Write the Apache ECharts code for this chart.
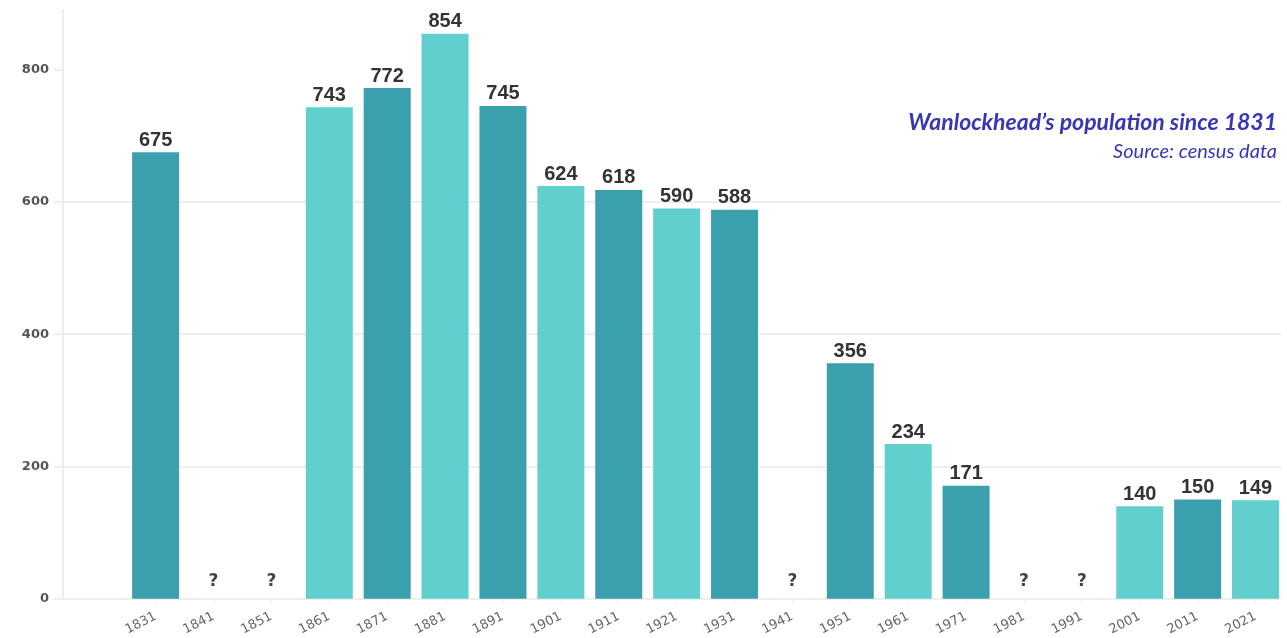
<!DOCTYPE html>
<html>
<head>
<meta charset="utf-8">
<script src="https://cdn.jsdelivr.net/npm/echarts@6/dist/echarts.min.js"></script>
<style>html,body{margin:0;padding:0;background:#fff}#c{width:1287px;height:638px}</style>
</head>
<body>
<div id="c"></div>
<script>
const years = [1831,1841,1851,1861,1871,1881,1891,1901,1911,1921,1931,1941,1951,1961,1971,1981,1991,2001,2011,2021];
const population = [675,null,null,743,772,854,745,624,618,590,588,null,356,234,171,null,null,140,150,149];
const yTicks = [0,200,400,600,800];
const darkColor = '#3aa0ae';
const lightColor = '#62cfcf';

const barData = years.map((y,i)=>({
  value:[y, population[i]],
  itemStyle:{color: i%2===0 ? darkColor : lightColor}
})).filter(d=>d.value[1]!==null);
const missingData = years.filter((y,i)=>population[i]===null).map(y=>[y,0]);

const chart = echarts.init(document.getElementById('c'));
chart.setOption({
  animation:false,
  title:[
    {text:'Wanlockhead\u2019s population since 1831', right:5, top:106,
     textStyle:{fontFamily:'Lato', fontStyle:'italic', fontWeight:'bold', fontSize:23, color:'#3636b6'}},
    {text:'Source: census data', right:5, top:137,
     textStyle:{fontFamily:'Lato', fontStyle:'italic', fontWeight:'normal', fontSize:20, color:'#3636b6'}}
  ],
  grid:{left:63, right:6, top:10, bottom:38},
  xAxis:{
    type:'value', min:1815, max:2025.4,
    axisLine:{show:false},
    splitLine:{show:false},
    axisTick:{show:true, customValues:years, length:5, lineStyle:{color:'#f0f0f0'}},
    axisLabel:{customValues:years, formatter:v=>String(v), rotate:27, margin:17, fontFamily:'DejaVu Sans', fontSize:13, color:'#666'}
  },
  yAxis:{
    type:'value', min:0, max:890, interval:200,
    axisLine:{show:true, lineStyle:{color:'#eeeeee', width:2}},
    axisTick:{show:true, length:9, lineStyle:{color:'#eeeeee', width:2}, customValues:yTicks},
    splitLine:{show:true, showMaxLine:false, lineStyle:{color:'#eeeeee', width:2}},
    axisLabel:{customValues:yTicks, margin:14, fontFamily:'DejaVu Sans', fontSize:13, color:'#555', fontWeight:'bold'}
  },
  series:[
    {type:'bar', data:barData, barWidth:47,
     label:{show:true, position:'top', distance:2, fontFamily:'Liberation Sans', fontWeight:'bold', fontSize:20, color:'#333',
       formatter:p=>p.value[1]}},
    {type:'scatter', data:missingData, symbolSize:0,
     label:{show:true, position:'top', distance:9, formatter:'?', fontFamily:'DejaVu Sans', fontWeight:'bold', fontSize:17, color:'#111'}}
  ]
});
</script>
</body>
</html>
